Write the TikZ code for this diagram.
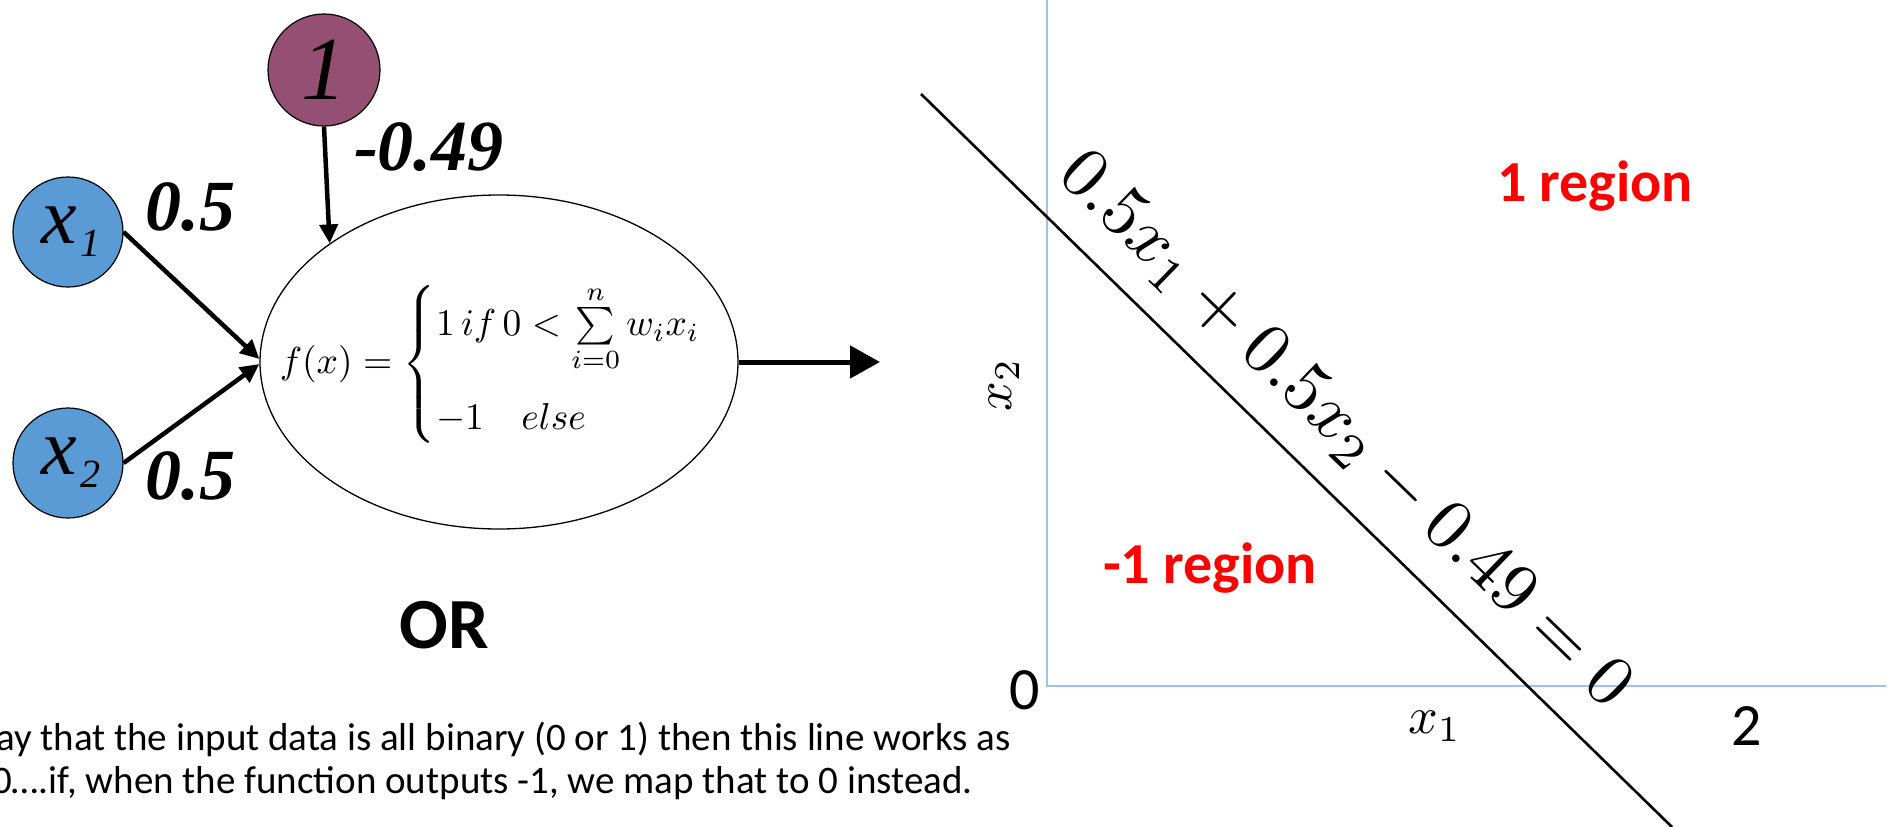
\documentclass[tikz,border=0pt]{standalone}
\usepackage{amsmath}
\usepackage{fontspec}
\newfontfamily\tnr{Liberation Serif}
\newfontfamily\calibri{Carlito}
\usetikzlibrary{arrows.meta,shapes.geometric}
\definecolor{inblue}{HTML}{5B9BD5}
\definecolor{biaspurple}{HTML}{954F72}
\definecolor{axisblue}{HTML}{9DC3E6}
\definecolor{regred}{HTML}{FF0000}
\begin{document}
\begin{tikzpicture}[x=1pt,y=-1pt,
  innode/.style={circle, draw=black, line width=1.2pt, fill=inblue, minimum size=110pt, inner sep=0pt},
  biasnode/.style={innode, fill=biaspurple, minimum size=112pt},
  wlabel/.style={font={\tnr\bfseries\itshape\fontsize{72}{72}\selectfont}, inner sep=0pt},
  arr/.style={line width=4.5pt, -{Triangle[length=19pt,width=18pt]}},
  outarr/.style={line width=5pt, -{Triangle[length=30pt,width=32pt]}},
  neuronshape/.style={ellipse, draw=black, line width=1.3pt, minimum width=478pt, minimum height=334pt, inner sep=0pt},
  calitext/.style={font={\calibri\fontsize{39}{44}\selectfont}, inner sep=0pt, anchor=base west},
  ticklabel/.style={font={\calibri\fontsize{60}{60}\selectfont}, inner sep=0pt},
  region/.style={font={\calibri\bfseries\fontsize{58}{58}\selectfont}, text=regred, inner sep=0pt, anchor=base west},
  axisline/.style={draw=axisblue, line width=1.6pt},
  boundary/.style={draw=black, line width=2.6pt}
]
\useasboundingbox (0,0) rectangle (1896,827);

% ---------- perceptron ----------
\node[biasnode] (one) at (324,70) {\tnr\itshape\fontsize{90}{90}\selectfont 1};
\node[innode] (x1) at (68,232) {\hspace{6pt}\tnr\itshape\fontsize{80}{80}\selectfont x\hspace{3pt}\raisebox{-13pt}{\fontsize{40}{40}\selectfont 1}};
\node[innode] (x2) at (68,463) {\hspace{6pt}\tnr\itshape\fontsize{80}{80}\selectfont x\hspace{3pt}\raisebox{-13pt}{\fontsize{40}{40}\selectfont 2}};
\node[neuronshape] (neuron) at (499,362) {};
\node[scale=3.75, inner sep=0pt, anchor=west] (formula) at (279,364)
  {$f(x)=\left\{\begin{array}{@{}l@{}}1\,if\,0<\sum\limits_{i=0}^{n}w_ix_i\\[13pt] -1\quad else\end{array}\right.$};

\node[wlabel] (w1) at (190,207) {0.5};
\node[wlabel] (w2) at (190,476) {0.5};
\node[wlabel] (w0) at (429,147) {-0.49};

\coordinate (outend) at (880,362);
\draw[arr] (one.south) -- (neuron.145);
\draw[arr] (x1.east) -- ([yshift=3pt]neuron.west);
\draw[arr] (x2.east) -- ([yshift=-2pt]neuron.west);
\draw[outarr] (neuron.east) -- (outend);

\node[font={\calibri\bfseries\fontsize{72}{72}\selectfont}, inner sep=0pt, anchor=base] (ortitle) at (444,648) {OR};

\node[calitext] (line1) at (-4,750) {ay that the input data is all binary (0 or 1) then this line works as};
\node[calitext] (line2) at (-8,793) {0….if, when the function outputs -1, we map that to 0 instead.};

% ---------- decision plot ----------
\coordinate (ytop) at (1047,0);
\coordinate (origin) at (1047,686);
\coordinate (xend) at (1886,686);
\draw[axisline] (ytop) -- (origin) -- (xend);

\coordinate (dA) at (921,94);
\coordinate (dB) at (1672,827);
\draw[boundary] (dA) -- (dB);

\node[scale=7.2, rotate=-44.05, inner sep=0pt] (eqn) at (1344,431) {$0.5x_1+0.5x_2-0.49=0$};

\node[ticklabel] (zero) at (1025,690) {0};
\node[ticklabel] (two) at (1747,726) {2};
\node[scale=5.2, inner sep=0pt] (xonelab) at (1435,726) {$x_1$};
\node[scale=5.2, rotate=90, inner sep=0pt] (xtwolab) at (1004,385) {$x_2$};

\node[region] (pos) at (1497,201) {1 region};
\node[region] (neg) at (1103,583) {-1 region};
\end{tikzpicture}
\end{document}
